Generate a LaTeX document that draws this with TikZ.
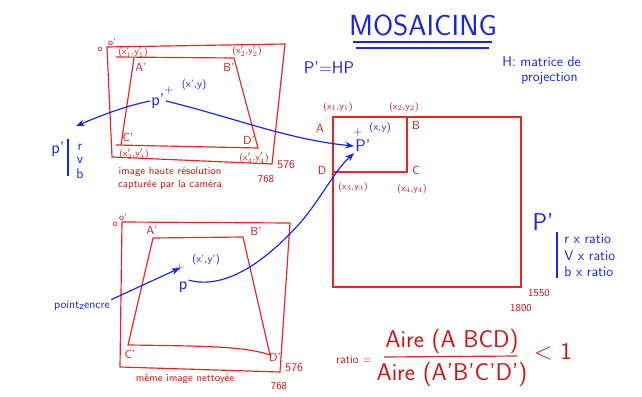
\documentclass[tikz,border=0pt]{standalone}
\usepackage{amsmath}
\usepackage{tikz}
\usepackage{xcolor}
\usetikzlibrary{arrows.meta,calc}
\definecolor{penred}{RGB}{228,38,38}
\definecolor{inkred}{RGB}{205,20,20}
\definecolor{inkblue}{RGB}{25,35,225}
\begin{document}
\begin{tikzpicture}[x=0.03cm,y=-0.03cm,>=Stealth,
pen/.style={draw=penred,line width=1pt},
ink/.style={draw=inkblue,line width=1pt,->},
rlab/.style={text=inkred,font=\sffamily\footnotesize,inner sep=1pt},
rtxt/.style={text=inkred,font=\sffamily\small,inner sep=1pt,align=center},
blab/.style={text=inkblue,font=\sffamily\normalsize,inner sep=1pt},
bbig/.style={text=inkblue,font=\sffamily\Large,inner sep=1pt}]
\useasboundingbox (0,0) rectangle (642,397);
% title
\node[text=inkblue,font=\sffamily\Huge] (ttl) at (423,25) {MOSAICING};
\draw[inkblue,line width=1.2pt] (353,42)--(492,42) (356,48)--(489,48);
\node[bbig] (peq) at (329,68) {P'=HP};
\node[blab,anchor=west,font=\sffamily\large] (hdef) at (501,62) {H: matrice de};
\node[blab,anchor=west,font=\sffamily\large] (hproj) at (520,78) {projection};
% high resolution image
\draw[pen] (107,47)--(285,44)--(272,164)--(112,157)--cycle;
\draw[pen] (116,57)--(234,58)--(258,148)--(116,145) (134,58)--(121,145);
\node[rlab] (o1) at (100,49) {o};
\node[rlab] (o1p) at (112,42) {o'};
\node[rlab] (h1) at (133,52) {(x$'_1$,y$'_1$)};
\node[rlab] (h2) at (247,51) {(x$'_2$,y$'_2$)};
\node[rlab,font=\sffamily\normalsize] (hA) at (141,67) {A'};
\node[rlab,font=\sffamily\normalsize] (hB) at (229,67) {B'};
\node[rlab,font=\sffamily\normalsize] (hC) at (128,137) {C'};
\node[rlab,font=\sffamily\normalsize] (hD) at (249,140) {D'};
\node[rlab] (h3) at (134,154) {(x$'_3$,y$'_3$)};
\node[rlab] (h4) at (254,158) {(x$'_4$,y$'_4$)};
\node[rtxt,anchor=west,font=\sffamily\normalsize] (hw) at (276,165) {576};
\node[rtxt] (hh) at (266,179) {768};
\node[rtxt] (hcap) at (170,178) {image haute r\'esolution\\captur\'ee par la cam\'era};
\node[blab] (xh) at (169,91) {+};
\node[bbig] (ph) at (158,101) {p'};
\node[blab,font=\sffamily\small] (ch) at (194,85) {(x',y)};
% rgb legend
\node[bbig] (pleg) at (58,149) {p'};
\coordinate (ptip) at (76,126);
\draw[inkblue,line width=1pt] (68,139)--(68,176);
\node[blab,font=\sffamily\large,inner sep=0pt] (lr) at (80,147) {r};
\node[blab,font=\sffamily\large,inner sep=0pt] (lv) at (80,160) {v};
\node[blab,font=\sffamily\large,inner sep=0pt] (lb) at (80,174) {b};
% cleaned image
\draw[pen] (122,222)--(290,223)--(280,372)--(120,367)--cycle;
\draw[pen] (153,238)--(243,237)--(270,355) .. controls (245,346) and (200,346) .. (128,345)--cycle;
\node[rlab] (o2) at (115,224) {o};
\node[rlab] (o2p) at (123,217) {o'};
\node[rlab,font=\sffamily\normalsize] (cA) at (152,230) {A'};
\node[rlab,font=\sffamily\normalsize] (cB) at (256,231) {B'};
\node[rlab,font=\sffamily\normalsize] (cC) at (130,354) {C'};
\node[rlab,font=\sffamily\normalsize] (cD) at (275,357) {D'};
\node[rtxt,anchor=west,font=\sffamily\normalsize] (cw) at (284,368) {576};
\node[rtxt] (ch2) at (279,386) {768};
\node[rtxt] (ccap) at (185,379) {m\^eme image nettoy\'ee};
\node[blab] (xc) at (180,268) {+};
\node[bbig] (pc) at (183,287) {p};
\node[blab,font=\sffamily\small] (cc) at (206,260) {(x',y')};
\node[blab] (pe) at (82,306) {point\raisebox{-1pt}{\small z}encre};
% mosaic
\draw[pen] (333,117) rectangle (521,287);
\draw[pen] (333,117) rectangle (407,172);
\node[rlab] (m1) at (338,107) {(x$_1$,y$_1$)};
\node[rlab] (m2) at (404,107) {(x$_2$,y$_2$)};
\node[rlab,font=\sffamily\normalsize] (mA) at (320,128) {A};
\node[rlab,font=\sffamily\normalsize] (mB) at (416,125) {B};
\node[rlab,font=\sffamily\normalsize] (mC) at (416,170) {C};
\node[rlab,font=\sffamily\normalsize] (mD) at (322,170) {D};
\node[rlab] (m3) at (353,187) {(x$_3$,y$_3$)};
\node[rlab] (m4) at (412,189) {(x$_4$,y$_4$)};
\node[blab] (xm) at (358,133) {+};
\node[blab,font=\sffamily\small] (cm) at (380,128) {(x,y)};
\node[bbig] (pm) at (363,146) {P'};
\node[rtxt] (mw) at (539,293) {1550};
\node[rtxt] (mh) at (521,308) {1800};
% ratio legend
\node[bbig,font=\sffamily\huge] (pr) at (543,222) {P'};
\draw[inkblue,line width=1pt] (557,232)--(557,278);
\node[blab,anchor=west,font=\sffamily\large] (rr) at (563,239) {r x ratio};
\node[blab,anchor=west,font=\sffamily\large] (rv) at (563,256) {V x ratio};
\node[blab,anchor=west,font=\sffamily\large] (rb) at (563,272) {b x ratio};
% ratio
\node[rtxt,font=\sffamily\normalsize] (rat) at (354,360) {ratio =};
\node[rtxt,font=\sffamily\huge] (rnum) at (452,341) {Aire (A BCD)};
\draw[pen] (384,357)--(517,356);
\node[rtxt,font=\sffamily\huge] (rden) at (452,374) {Aire (A'B'C'D')};
\node[rtxt,font=\sffamily\huge] (rlt) at (553,352) {< 1};
% arrows
\draw[ink] (ph.west) .. controls (125,106) and (100,116) .. (ptip);
\draw[ink] (ph.east) .. controls (235,118) and (290,140) .. (pm.west);
\draw[ink] (pc.north east) .. controls (225,290) and (265,262) .. (300,223) .. controls (320,200) and (335,170) .. (pm.south west);
\draw[ink] (pe.north east) -- (xc.center);
\end{tikzpicture}
\end{document}
